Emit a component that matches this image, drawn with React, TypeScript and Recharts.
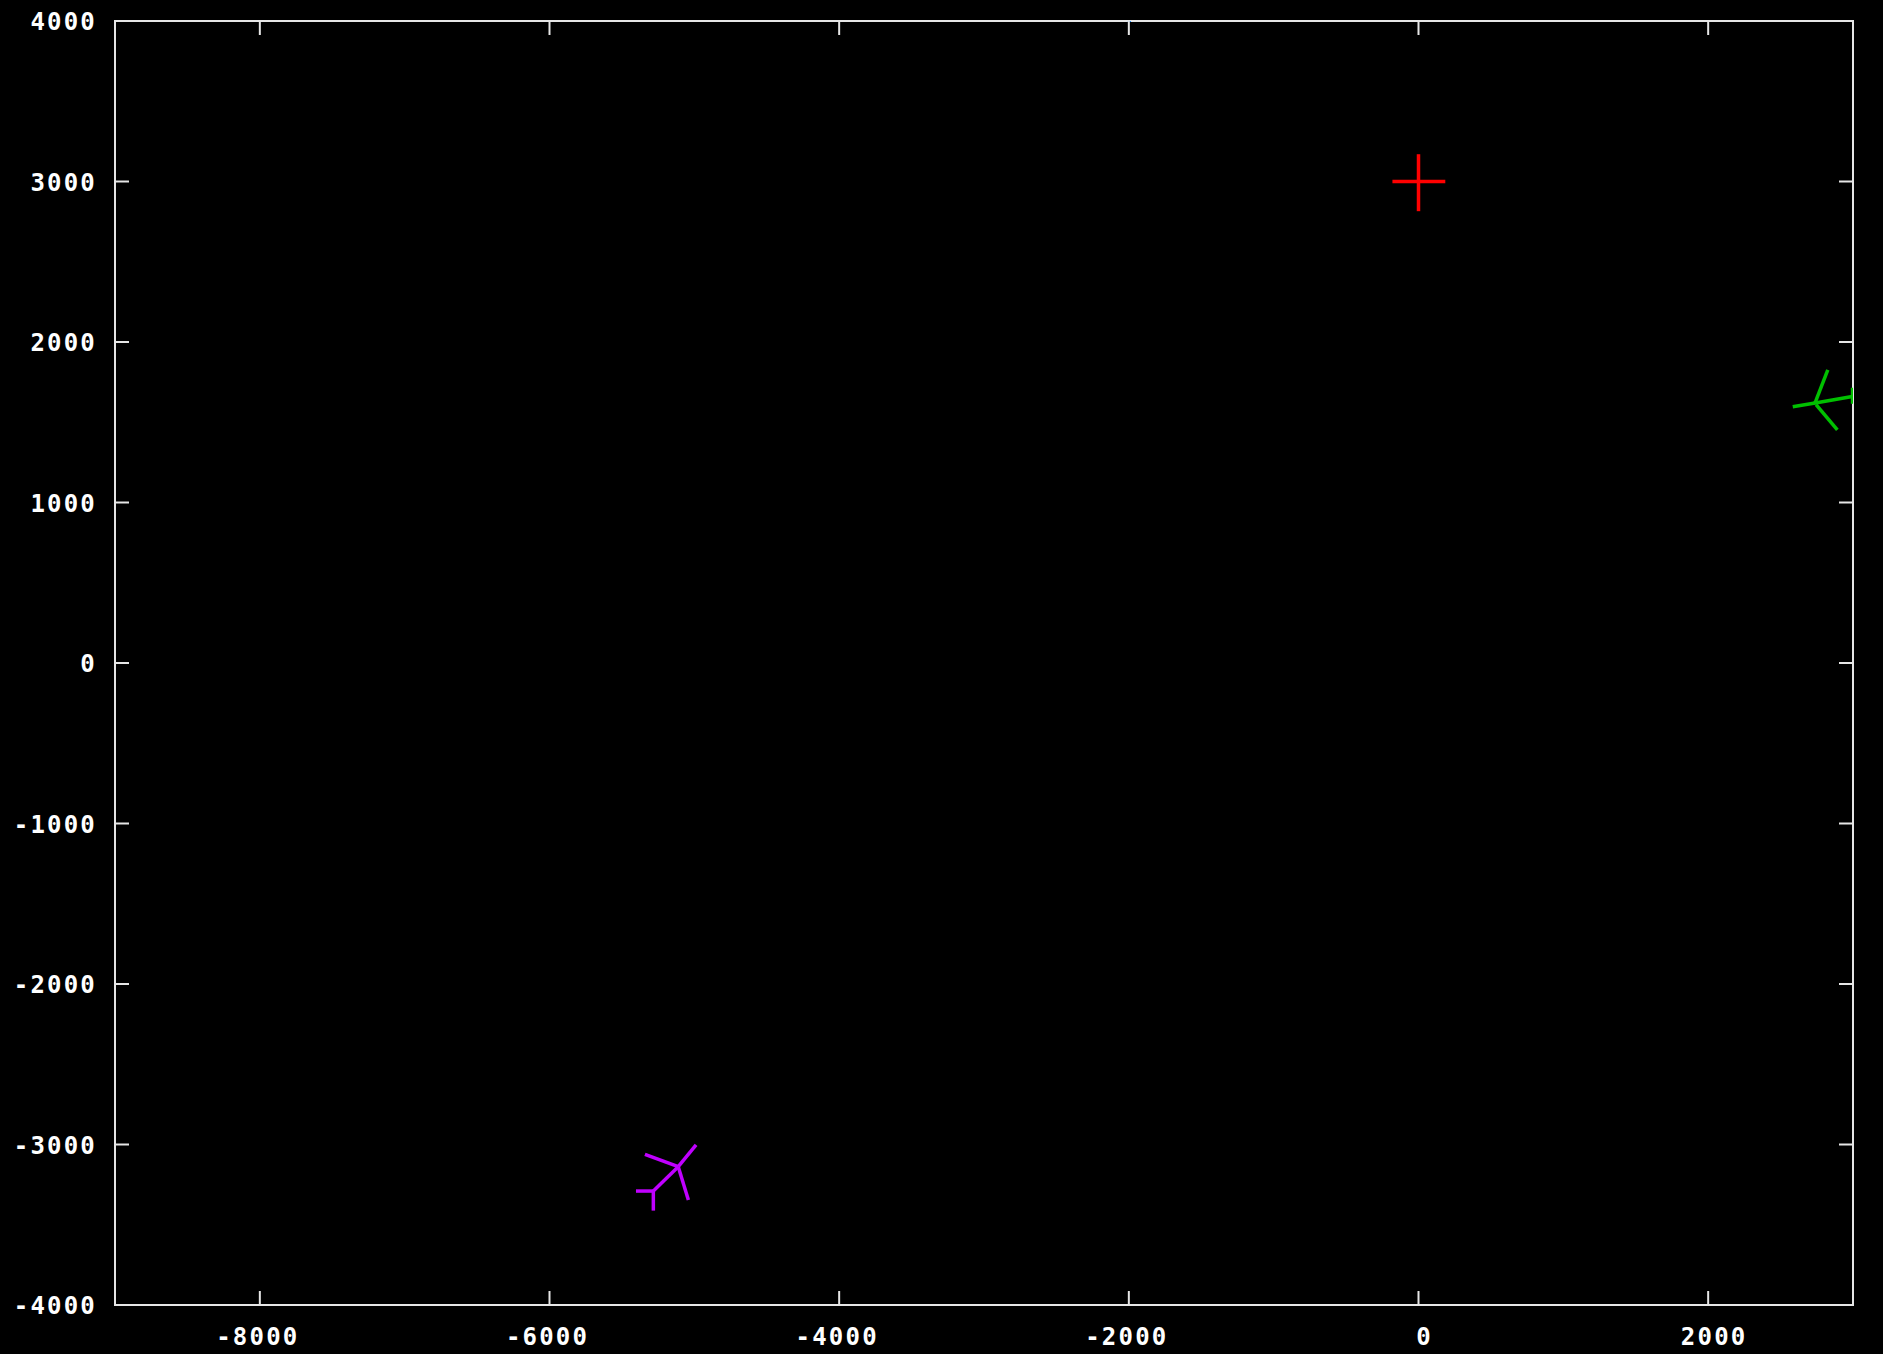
import React from 'react';
import { ScatterChart, Scatter, XAxis, YAxis, ReferenceArea } from 'recharts';

// ---- data ----
const xTicks = [-8000, -6000, -4000, -2000, 0, 2000];
const yTicks = [-4000, -3000, -2000, -1000, 0, 1000, 2000, 3000, 4000];
const xDomain = [-9000, 3000];
const yDomain = [-4000, 4000];

// red cross
const redHorizontal = [{ x: -180, y: 3000 }, { x: 185, y: 3000 }];
const redVertical = [{ x: 0, y: 2815 }, { x: 0, y: 3170 }];

// green symbol
const greenLeft = [{ x: 2584, y: 1597 }, { x: 2738, y: 1620 }];
const greenUp = [{ x: 2738, y: 1620 }, { x: 2826, y: 1826 }];
const greenDown = [{ x: 2745, y: 1610 }, { x: 2892, y: 1452 }];
const greenRight = [{ x: 2730, y: 1618 }, { x: 2995, y: 1660 }];
const greenEnd = [{ x: 2997, y: 1615 }, { x: 2997, y: 1715 }];

// purple symbol
const purpleUpRight = [{ x: -5111, y: -3138 }, { x: -4988, y: -3003 }];
const purpleUpLeft = [{ x: -5341, y: -3061 }, { x: -5111, y: -3138 }];
const purpleDownRight = [{ x: -5111, y: -3138 }, { x: -5041, y: -3346 }];
const purpleDownLeft = [{ x: -5111, y: -3138 }, { x: -5283, y: -3290 }];
const purpleBar = [{ x: -5403, y: -3290 }, { x: -5283, y: -3290 }];
const purpleStem = [{ x: -5283, y: -3290 }, { x: -5283, y: -3412 }];

// blue dot
const blueDot = [{ x: -2000, y: 4000 }];

// ---- layout ----
const W = 1883;
const H = 1354;
const PLOT_LEFT = 115;
const PLOT_RIGHT = 1853;
const PLOT_TOP = 21;
const PLOT_BOTTOM = 1305;
const TICK = 14;
const AXIS_COLOR = '#e6e6e6';
const FONT = '"DejaVu Sans Mono", monospace';

const XTick = (props: any) => {
  const { x, payload } = props;
  const off = payload.value < 0 ? -2 : 6;
  return (
    <g>
      <line x1={x} x2={x} y1={PLOT_BOTTOM} y2={PLOT_BOTTOM - TICK} stroke={AXIS_COLOR} strokeWidth={2} />
      <line x1={x} x2={x} y1={PLOT_TOP} y2={PLOT_TOP + TICK} stroke={AXIS_COLOR} strokeWidth={2} />
      <text
        x={x + off}
        y={1337}
        textAnchor="middle"
        dominantBaseline="central"
        fill="#ffffff"
        fontFamily={FONT}
        fontWeight="bold"
        fontSize={24}
        letterSpacing={2.2}
      >
        {payload.value}
      </text>
    </g>
  );
};

const YTick = (props: any) => {
  const { y, payload } = props;
  return (
    <g>
      <line x1={PLOT_LEFT} x2={PLOT_LEFT + TICK} y1={y} y2={y} stroke={AXIS_COLOR} strokeWidth={2} />
      <line x1={PLOT_RIGHT - TICK} x2={PLOT_RIGHT} y1={y} y2={y} stroke={AXIS_COLOR} strokeWidth={2} />
      <text
        x={97}
        y={y + 1}
        textAnchor="end"
        dominantBaseline="central"
        fill="#ffffff"
        fontFamily={FONT}
        fontWeight="bold"
        fontSize={24}
        letterSpacing={2.2}
      >
        {payload.value}
      </text>
    </g>
  );
};

const noShape = () => <g />;

const seg = (data: { x: number; y: number }[], color: string, key: string) => (
  <Scatter
    key={key}
    data={data}
    line={{ stroke: color, strokeWidth: 3.5 }}
    lineType="joint"
    shape={noShape}
    isAnimationActive={false}
  />
);

export default function App() {
  return (
    <div style={{ position: 'absolute', left: 0, top: 0, width: W, height: H, background: '#000' }}>
      <ScatterChart
        width={W}
        height={H}
        margin={{ top: PLOT_TOP, right: W - PLOT_RIGHT, bottom: 0, left: 0 }}
        style={{ background: '#000' }}
      >
        <XAxis
          type="number"
          dataKey="x"
          domain={xDomain}
          ticks={xTicks}
          height={H - PLOT_BOTTOM}
          axisLine={false}
          tickLine={false}
          tick={XTick}
          interval={0}
          allowDataOverflow
        />
        <YAxis
          type="number"
          dataKey="y"
          domain={yDomain}
          ticks={yTicks}
          width={PLOT_LEFT}
          axisLine={false}
          tickLine={false}
          tick={YTick}
          interval={0}
          allowDataOverflow
        />
        <ReferenceArea
          x1={xDomain[0]}
          x2={xDomain[1]}
          y1={yDomain[0]}
          y2={yDomain[1]}
          fill="none"
          fillOpacity={0}
          stroke={AXIS_COLOR}
          strokeWidth={2}
          ifOverflow="visible"
        />
        {seg(redHorizontal, '#ff0000', 'rh')}
        {seg(redVertical, '#ff0000', 'rv')}
        {seg(greenLeft, '#00c000', 'gl')}
        {seg(greenUp, '#00c000', 'gu')}
        {seg(greenDown, '#00c000', 'gd')}
        {seg(greenRight, '#00c000', 'gr')}
        {seg(greenEnd, '#00c000', 'ge')}
        {seg(purpleUpRight, '#c000ff', 'pur')}
        {seg(purpleUpLeft, '#c000ff', 'pul')}
        {seg(purpleDownRight, '#c000ff', 'pdr')}
        {seg(purpleDownLeft, '#c000ff', 'pdl')}
        {seg(purpleBar, '#c000ff', 'pb')}
        {seg(purpleStem, '#c000ff', 'ps')}
        <Scatter
          data={blueDot}
          fill="#0080ff"
          shape={(p: any) => <rect x={p.cx - 1} y={p.cy - 1} width={3} height={2} fill="#0080ff" />}
          isAnimationActive={false}
        />
      </ScatterChart>
    </div>
  );
}
